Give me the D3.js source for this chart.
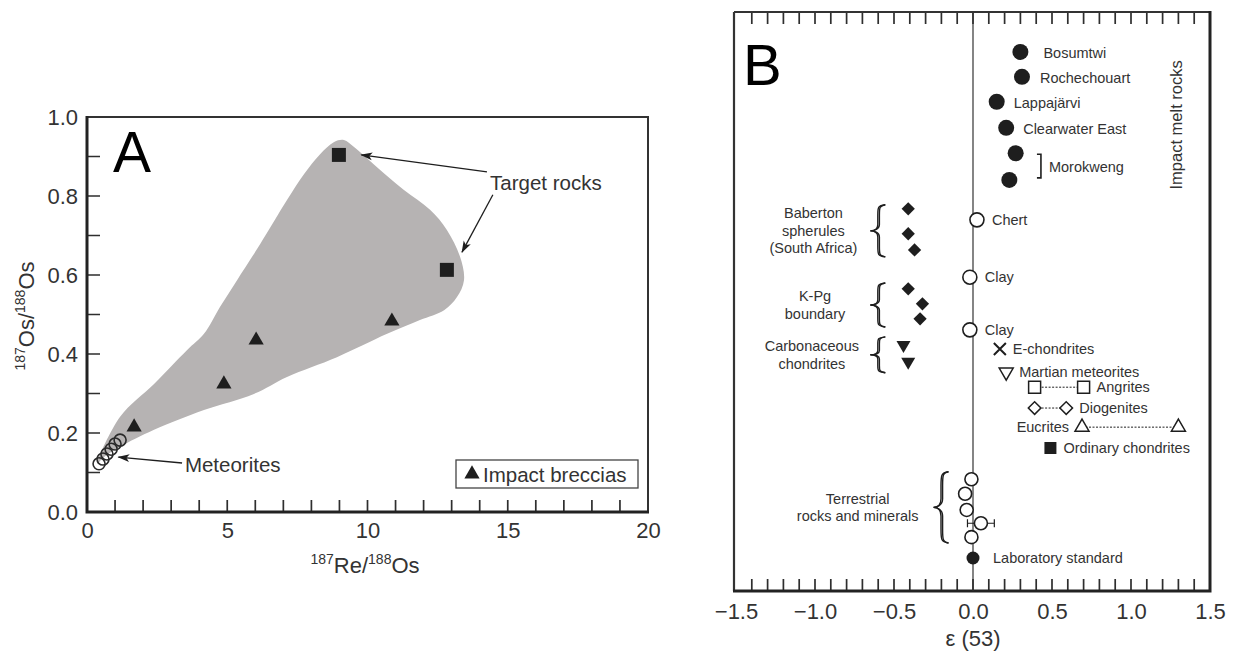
<!DOCTYPE html>
<html>
<head>
<meta charset="utf-8">
<script src="https://cdn.jsdelivr.net/npm/d3@7"></script>
<style>
  body { margin: 0; background: #fff; }
  svg { font-family: Arial, "Liberation Sans", sans-serif; }
</style>
</head>
<body>
<svg id="chart" width="1235" height="656"></svg>
<script>
// ---------- Panel A data (187Re/188Os vs 187Os/188Os) ----------
const breccias = [[1.68, 0.215], [4.88, 0.324], [6.03, 0.435], [10.87, 0.483]];
const targetRocks = [[8.98, 0.904], [12.83, 0.613]];
const meteorites = [[0.43, 0.122], [0.57, 0.134], [0.71, 0.147], [0.86, 0.159], [1.0, 0.172], [1.18, 0.182]];
// outline of the grey target-rock field
const targetField = [
  [0.36, 0.122], [1.18, 0.241], [2.39, 0.324], [3.57, 0.410], [4.17, 0.451], [4.74, 0.519],
  [5.35, 0.587], [6.17, 0.678], [7.13, 0.790], [7.74, 0.856], [8.31, 0.906], [8.81, 0.937],
  [9.16, 0.942], [9.52, 0.924], [10.34, 0.873], [11.30, 0.815], [12.23, 0.765], [12.83, 0.714],
  [13.30, 0.646], [13.44, 0.587], [13.19, 0.544], [12.73, 0.511], [11.87, 0.486], [10.70, 0.451],
  [8.91, 0.392], [7.13, 0.342], [5.95, 0.299], [4.17, 0.258], [2.39, 0.208], [1.18, 0.165], [0.61, 0.139]
];
const xTicksA = d3.range(0, 21);
const yTicksA = d3.range(0, 11).map(i => i / 10);

// ---------- Panel B data (epsilon 53Cr) ----------
// "row" = vertical position (0 = top, 100 = bottom)
const meltNames = ["Bosumtwi", "Rochechouart", "Lappajärvi", "Clearwater East", "Morokweng", null];
const meltEps = [0.30, 0.31, 0.15, 0.21, 0.27, 0.23];
const meltRow = [6.9, 11.2, 15.5, 20.0, 24.4, 29.0];

const sedNames = ["Chert", "Clay", "Clay"];
const sedEps = [0.025, -0.02, -0.02];
const sedRow = [35.9, 45.8, 54.9];

const babertonEps = [-0.41, -0.41, -0.37];
const babertonRow = [34.0, 38.3, 41.1];
const kpgEps = [-0.41, -0.32, -0.335];
const kpgRow = [47.8, 50.4, 53.0];
const carbEps = [-0.44, -0.41];
const carbRow = [57.5, 60.4];

const terrEps = [-0.01, -0.05, -0.04, 0.05, -0.01];
const terrRow = [80.7, 83.2, 86.0, 88.3, 90.7];
const terrErr = [0, 0, 0, 0.085, 0];

const labEps = 0.0, labRow = 94.3;

const classNames = ["E-chondrites", "Martian meteorites", "Angrites", "Diogenites", "Eucrites", "Ordinary chondrites"];
const classSymbol = ["cross", "triDown", "square", "diamond", "triUp", "squareFilled"];
const classEps = [[0.17], [0.21], [0.39, 0.70], [0.39, 0.59], [0.69, 1.30], [0.49]];
const classRow = [58.2, 62.2, 64.8, 68.4, 71.7, 75.3];

const groups = [
  { lines: ["Baberton", "spherules", "(South Africa)"], rows: [33.3, 42.3], braceEps: -0.65, textEps: -1.01 },
  { lines: ["K-Pg", "boundary"], rows: [46.8, 54.4], braceEps: -0.65, textEps: -1.0 },
  { lines: ["Carbonaceous", "chondrites"], rows: [56.1, 62.3], braceEps: -0.65, textEps: -1.02 },
  { lines: ["Terrestrial", "rocks and minerals"], rows: [79.4, 91.7], braceEps: -0.25, textEps: -0.73 }
];
const xTicksB = d3.range(-15, 16).map(i => i / 10);

const ink = "#1e1e1e", txt = "#333", tickInk = "#2e2e2e";
const svg = d3.select("#chart");

svg.append("defs").append("marker")
  .attr("id", "arrow").attr("viewBox", "0 -5 12 10")
  .attr("refX", 11).attr("refY", 0)
  .attr("markerWidth", 12).attr("markerHeight", 10)
  .attr("markerUnits", "userSpaceOnUse").attr("orient", "auto")
  .append("path").attr("d", "M0,-4L12,0L0,4L3,0Z").attr("fill", ink);

function styleAxis(ax) {
  ax.select(".domain").remove();
  ax.selectAll("text").attr("font-size", 22).attr("fill", txt)
    .attr("font-family", "Arial, Liberation Sans, sans-serif");
}

// ================= PANEL A =================
const xA = d3.scaleLinear().domain([0, 20]).range([87, 648]);
const yA = d3.scaleLinear().domain([0, 1]).range([512, 117]);
const gA = svg.append("g");

gA.append("path")
  .datum(targetField)
  .attr("d", d3.line().x(d => xA(d[0])).y(d => yA(d[1])).curve(d3.curveCatmullRomClosed.alpha(0.5)))
  .attr("fill", "#b6b3b3");

// tick labels
styleAxis(gA.append("g").attr("transform", `translate(${xA(0)},0)`)
  .call(d3.axisLeft(yA).tickValues(yTicksA.filter((d, i) => i % 2 === 0)).tickSize(0).tickPadding(9)
    .tickFormat(d3.format(".1f"))));
styleAxis(gA.append("g").attr("transform", `translate(0,${yA(0)})`)
  .call(d3.axisBottom(xA).tickValues(xTicksA.filter(d => d % 5 === 0)).tickSize(0).tickPadding(10)));

// inward ticks, drawn as one path each
gA.append("path")
  .attr("d", yTicksA.slice(1, -1).map(d => `M${xA(0)},${yA(d)}h13`).join(""))
  .attr("fill", "none").attr("stroke", tickInk).attr("stroke-width", 1.7);
gA.append("path")
  .attr("d", xTicksA.slice(1, -1).map(d => `M${xA(d)},${yA(0)}v-12`).join(""))
  .attr("fill", "none").attr("stroke", tickInk).attr("stroke-width", 1.7);

// frame
gA.append("path")
  .attr("d", `M${xA(0)},${yA(1)}H${xA(20)}V${yA(0)}`)
  .attr("fill", "none").attr("stroke", "#333").attr("stroke-width", 2);
gA.append("path")
  .attr("d", `M${xA(0)},${yA(1) - 1}V${yA(0)}H${xA(20) + 1}`)
  .attr("fill", "none").attr("stroke", "#222").attr("stroke-width", 3);

// meteorites (open circles)
gA.selectAll(".met").data(meteorites).join("circle")
  .attr("cx", d => xA(d[0])).attr("cy", d => yA(d[1])).attr("r", 6)
  .attr("fill", "none").attr("stroke", "#2a2a2a").attr("stroke-width", 1.6);

// impact breccias
gA.selectAll(".brec").data(breccias).join("path")
  .attr("transform", d => `translate(${xA(d[0])},${yA(d[1])})`)
  .attr("d", d3.symbol(d3.symbolTriangle, 100)).attr("fill", ink);

// target rocks
gA.selectAll(".tgt").data(targetRocks).join("path")
  .attr("transform", d => `translate(${xA(d[0])},${yA(d[1])})`)
  .attr("d", d3.symbol(d3.symbolSquare, 196)).attr("fill", ink);

// annotations
const arrowsA = [
  [[14.26, 0.861], [9.78, 0.904]],
  [[14.47, 0.803], [13.37, 0.658]],
  [[3.39, 0.124], [1.12, 0.139]]
];
gA.selectAll(".arr").data(arrowsA).join("line")
  .attr("x1", d => xA(d[0][0])).attr("y1", d => yA(d[0][1]))
  .attr("x2", d => xA(d[1][0])).attr("y2", d => yA(d[1][1]))
  .attr("stroke", ink).attr("stroke-width", 1.3).attr("marker-end", "url(#arrow)");

gA.append("text").attr("x", xA(14.37)).attr("y", yA(0.815))
  .attr("font-size", 20.5).attr("fill", txt).text("Target rocks");
gA.append("text").attr("x", xA(3.49)).attr("y", yA(0.101))
  .attr("font-size", 20.5).attr("fill", txt).text("Meteorites");

// legend
const lg = gA.append("g").attr("transform", `translate(${xA(20) - 192},${yA(0) - 52})`);
lg.append("rect").attr("width", 182).attr("height", 28)
  .attr("fill", "#fff").attr("stroke", "#444").attr("stroke-width", 1.3);
lg.append("path").attr("transform", "translate(16,14)")
  .attr("d", d3.symbol(d3.symbolTriangle, 100)).attr("fill", ink);
lg.append("text").attr("x", 27).attr("y", 21.5).attr("font-size", 20.5).attr("fill", txt).text("Impact breccias");

// panel letter
gA.append("text").attr("x", 113).attr("y", 172).attr("font-size", 57).attr("fill", "#000").text("A");

// axis titles
const xt = gA.append("text").attr("x", 365).attr("y", 573).attr("text-anchor", "middle").attr("fill", txt).attr("font-size", 22);
xt.append("tspan").attr("font-size", 14).attr("dy", -9).text("187");
xt.append("tspan").attr("dy", 9).text("Re/");
xt.append("tspan").attr("font-size", 14).attr("dy", -9).text("188");
xt.append("tspan").attr("dy", 9).text("Os");

const yt = gA.append("text").attr("transform", "translate(34,316) rotate(-90)")
  .attr("text-anchor", "middle").attr("fill", txt).attr("font-size", 22);
yt.append("tspan").attr("font-size", 14).attr("dy", -9).text("187");
yt.append("tspan").attr("dy", 9).text("Os/");
yt.append("tspan").attr("font-size", 14).attr("dy", -9).text("188");
yt.append("tspan").attr("dy", 9).text("Os");

// ================= PANEL B =================
const xB = d3.scaleLinear().domain([-1.5, 1.5]).range([736, 1210]);
const yB = d3.scaleLinear().domain([0, 100]).range([12, 591]);
const gB = svg.append("g");

styleAxis(gB.append("g").attr("transform", `translate(0,${yB(100)})`)
  .call(d3.axisBottom(xB).tickValues(xTicksB.filter(d => Math.abs(Math.round(d * 10)) % 5 === 0))
    .tickSize(0).tickPadding(12).tickFormat(d3.format(".1f"))));

const inner = xTicksB.slice(1, -1);
gB.append("path")
  .attr("d", inner.map(d => `M${xB(d)},${yB(100)}v-12M${xB(d)},${yB(0)}v12`).join(""))
  .attr("fill", "none").attr("stroke", tickInk).attr("stroke-width", 1.7);

gB.append("path")
  .attr("d", `M${xB(-1.5) - 2},${yB(0)}H${xB(1.5)}`)
  .attr("stroke", "#333").attr("stroke-width", 2).attr("fill", "none");
gB.append("path")
  .attr("d", `M${xB(-1.5) - 2},${yB(0)}V${yB(100)}`)
  .attr("stroke", "#333").attr("stroke-width", 2.2).attr("fill", "none");
gB.append("path")
  .attr("d", `M${xB(-1.5) - 3},${yB(100)}H${xB(1.5)}V${yB(0) - 1}`)
  .attr("stroke", "#222").attr("stroke-width", 3).attr("fill", "none");

// zero line
gB.append("line").attr("x1", xB(0)).attr("x2", xB(0)).attr("y1", yB(0)).attr("y2", yB(100))
  .attr("stroke", "#333").attr("stroke-width", 1.2);

gB.append("text").attr("x", xB(0)).attr("y", 646).attr("text-anchor", "middle")
  .attr("font-size", 22).attr("fill", txt).text("ε (53)");
gB.append("text").attr("x", 743).attr("y", 85).attr("font-size", 58).attr("fill", "#000").text("B");

const labelSize = 14.5;
function label(x, y, s, anchor) {
  gB.append("text").attr("x", x).attr("y", y).attr("font-size", labelSize)
    .attr("fill", txt).attr("text-anchor", anchor || "start").text(s);
}

// impact melt rocks
meltEps.forEach((e, i) => {
  gB.append("circle").attr("cx", xB(e)).attr("cy", yB(meltRow[i])).attr("r", 8).attr("fill", ink);
});
const meltDx = [23, 18, 17, 17];
meltNames.forEach((n, i) => {
  if (n && i < 4) label(xB(meltEps[i]) + meltDx[i], yB(meltRow[i]) + 6, n);
});
// Morokweng bracket
const mTop = yB(meltRow[4]) + 1, mBot = yB(meltRow[5]) - 2, mX = xB(0.43);
gB.append("path").attr("d", `M${mX - 4},${mTop}H${mX}V${mBot}H${mX - 4}`)
  .attr("fill", "none").attr("stroke", ink).attr("stroke-width", 1.6);
label(mX + 8, (mTop + mBot) / 2 + 6, "Morokweng");
gB.append("text").attr("transform", `translate(${xB(1.32)},${yB(19.5)}) rotate(-90)`)
  .attr("text-anchor", "middle").attr("font-size", 16.5).attr("fill", txt).text("Impact melt rocks");

// chert / clay
sedEps.forEach((e, i) => {
  gB.append("circle").attr("cx", xB(e)).attr("cy", yB(sedRow[i])).attr("r", 7)
    .attr("fill", "#fff").attr("stroke", ink).attr("stroke-width", 1.6);
  label(xB(e) + 15, yB(sedRow[i]) + 5, sedNames[i]);
});

// spherules / boundary (filled diamonds)
const diamond = d3.symbol(d3.symbolSquare, 88);
[[babertonEps, babertonRow], [kpgEps, kpgRow]].forEach(([es, rs]) => {
  es.forEach((e, i) => {
    gB.append("path").attr("transform", `translate(${xB(e)},${yB(rs[i])}) rotate(45)`)
      .attr("d", diamond).attr("fill", ink);
  });
});
// carbonaceous chondrites (filled down-triangles)
carbEps.forEach((e, i) => {
  gB.append("path").attr("transform", `translate(${xB(e)},${yB(carbRow[i])}) rotate(180)`)
    .attr("d", d3.symbol(d3.symbolTriangle, 85)).attr("fill", ink);
});

// meteorite classes
classNames.forEach((n, i) => {
  const y = yB(classRow[i]);
  const es = classEps[i];
  if (es.length > 1) {
    gB.append("line").attr("x1", xB(es[0])).attr("x2", xB(es[1])).attr("y1", y).attr("y2", y)
      .attr("stroke", ink).attr("stroke-width", 1).attr("stroke-dasharray", "2,1.5");
  }
  es.forEach(e => {
    const g = gB.append("g").attr("transform", `translate(${xB(e)},${y})`);
    const sym = classSymbol[i];
    if (sym === "cross") {
      g.append("path").attr("d", "M-6,-6L6,6M-6,6L6,-6").attr("stroke", ink).attr("stroke-width", 2);
    } else if (sym === "triDown") {
      g.append("path").attr("transform", "rotate(180)").attr("d", d3.symbol(d3.symbolTriangle, 85))
        .attr("fill", "#fff").attr("stroke", ink).attr("stroke-width", 1.5);
    } else if (sym === "triUp") {
      g.append("path").attr("d", d3.symbol(d3.symbolTriangle, 85))
        .attr("fill", "#fff").attr("stroke", ink).attr("stroke-width", 1.5);
    } else if (sym === "square") {
      g.append("path").attr("d", d3.symbol(d3.symbolSquare, 144))
        .attr("fill", "#fff").attr("stroke", ink).attr("stroke-width", 1.5);
    } else if (sym === "diamond") {
      g.append("path").attr("transform", "rotate(45)").attr("d", d3.symbol(d3.symbolSquare, 80))
        .attr("fill", "#fff").attr("stroke", ink).attr("stroke-width", 1.5);
    } else if (sym === "squareFilled") {
      g.append("path").attr("d", d3.symbol(d3.symbolSquare, 144)).attr("fill", ink);
    }
  });
  if (n === "Eucrites") label(xB(es[0]) - 13, y + 5, n, "end");
  else label(xB(es[es.length - 1]) + 13, y + 5, n);
});

// terrestrial rocks
terrEps.forEach((e, i) => {
  const y = yB(terrRow[i]);
  if (terrErr[i] > 0) {
    const x0 = xB(e - terrErr[i]), x1 = xB(e + terrErr[i]);
    gB.append("path").attr("d", `M${x0},${y}H${x1}M${x0},${y - 4}V${y + 4}M${x1},${y - 4}V${y + 4}`)
      .attr("stroke", ink).attr("stroke-width", 1.2).attr("fill", "none");
  }
  gB.append("circle").attr("cx", xB(e)).attr("cy", y).attr("r", 6.5)
    .attr("fill", "#fff").attr("stroke", ink).attr("stroke-width", 1.6);
});

// laboratory standard
gB.append("circle").attr("cx", xB(labEps)).attr("cy", yB(labRow)).attr("r", 6.5).attr("fill", ink);
label(xB(labEps) + 20, yB(labRow) + 5, "Laboratory standard");

// group braces (doubled stroke for a heavier body) and labels
function braceCurve(x, y0, y1, w, t) {
  const h = y1 - y0, m = (y0 + y1) / 2, xm = x + w * 0.5 + t, xr = x + w;
  return [`M${xr},${y0}`,
    `C${xm},${y0 + 1} ${xm},${y0 + h * 0.05} ${xm},${y0 + h * 0.2}`,
    `L${xm},${m - h * 0.12}`,
    `C${xm},${m - h * 0.03} ${x + w * 0.25},${m} ${x},${m}`,
    `C${x + w * 0.25},${m} ${xm},${m + h * 0.03} ${xm},${m + h * 0.12}`,
    `L${xm},${y1 - h * 0.2}`,
    `C${xm},${y1 - h * 0.05} ${xm},${y1 - 1} ${xr},${y1}`].join(" ");
}
groups.forEach(g => {
  const y0 = yB(g.rows[0]), y1 = yB(g.rows[1]);
  gB.append("path").attr("d", braceCurve(xB(g.braceEps), y0, y1, 15, 0))
    .attr("fill", "none").attr("stroke", ink).attr("stroke-width", 1.4);
  gB.append("path").attr("d", braceCurve(xB(g.braceEps), y0, y1, 15, 1.6))
    .attr("fill", "none").attr("stroke", ink).attr("stroke-width", 1.4);
  const mid = (y0 + y1) / 2, lh = 17.5;
  g.lines.forEach((s, i) => {
    label(xB(g.textEps), mid - (g.lines.length - 1) / 2 * lh + i * lh + 5, s, "middle");
  });
});
</script>
</body>
</html>
